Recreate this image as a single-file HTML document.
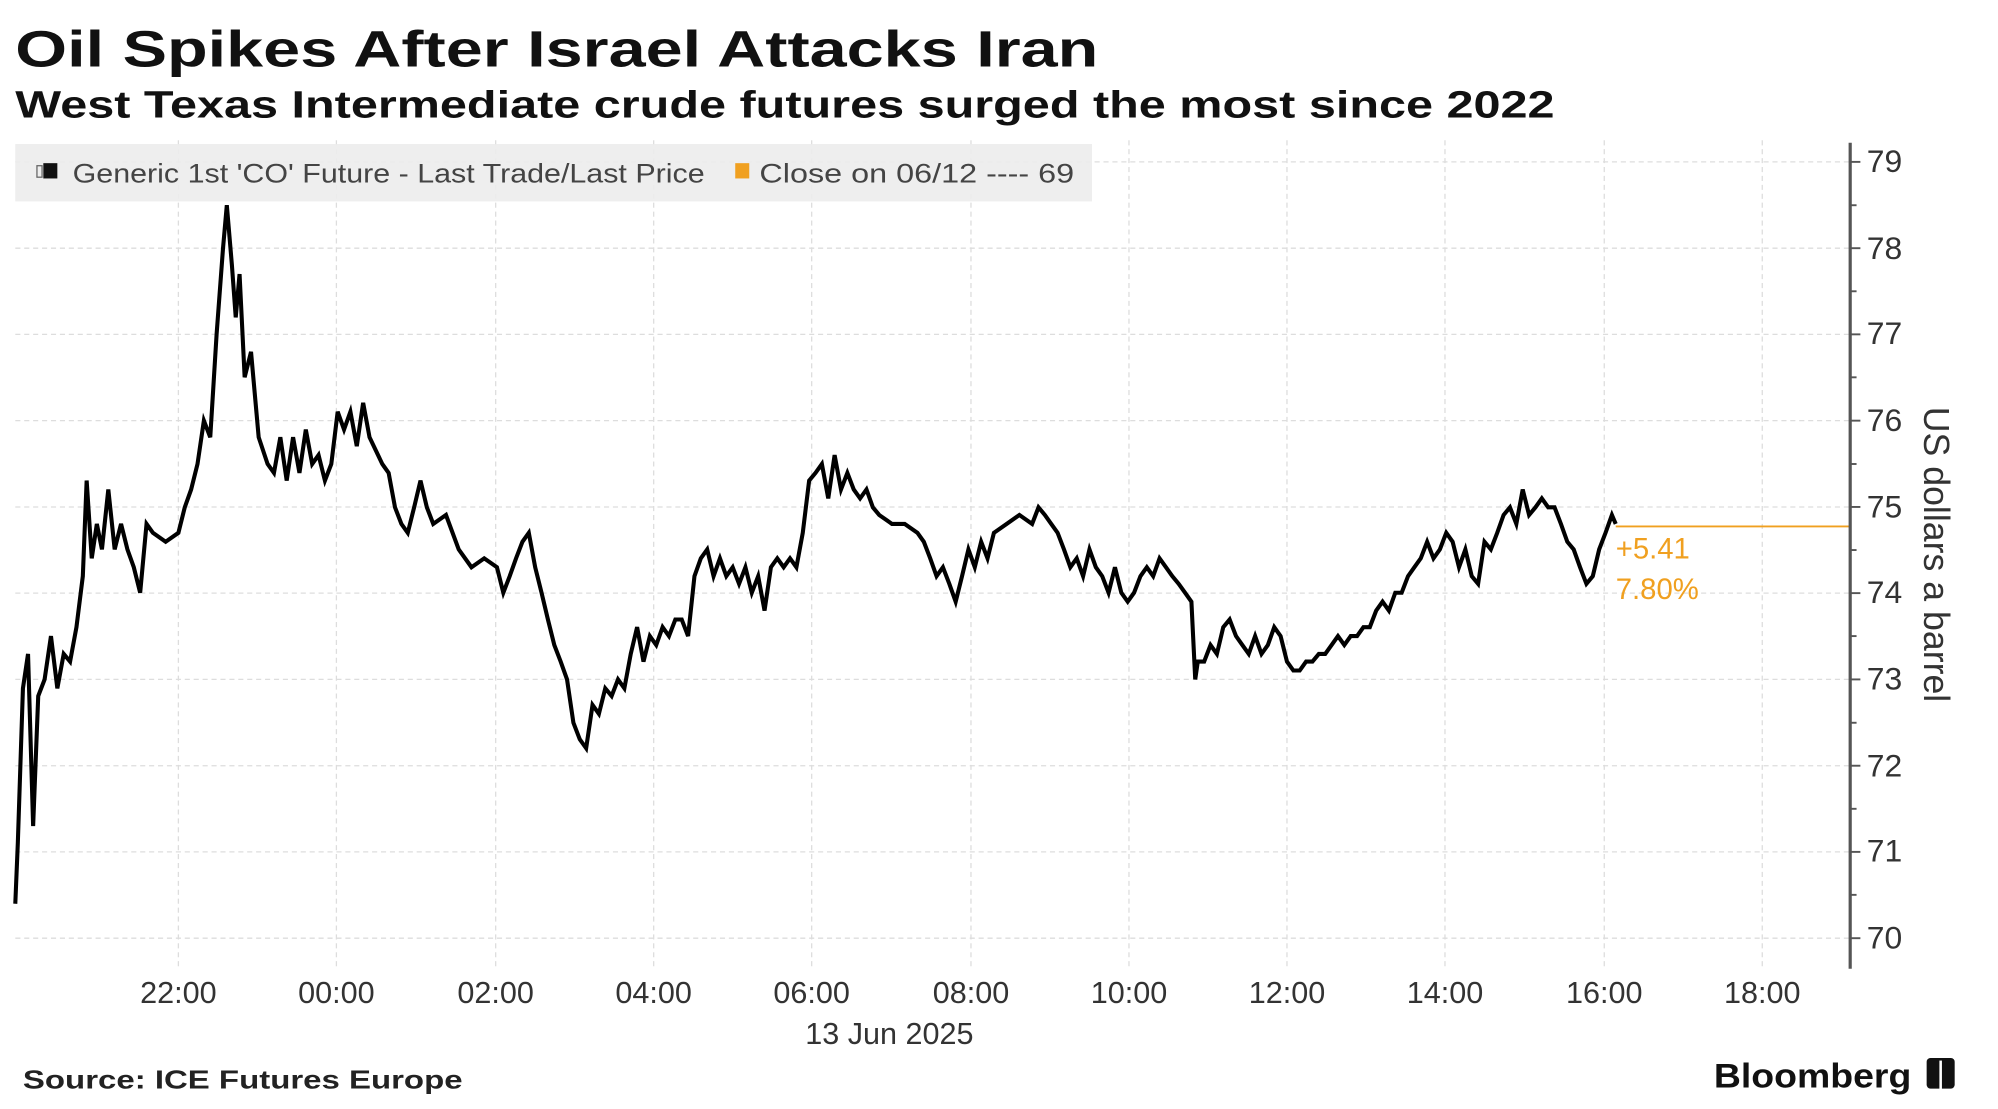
<!DOCTYPE html>
<html><head><meta charset="utf-8"><style>html,body{margin:0;padding:0;background:#fff}svg{display:block}</style></head>
<body>
<svg width="1998" height="1109" viewBox="0 0 1568 870" preserveAspectRatio="none" xmlns="http://www.w3.org/2000/svg" font-family="Liberation Sans, DejaVu Sans, sans-serif">
<rect width="1568" height="870" fill="#fff"/>
<text x="12" y="52" font-size="40" font-weight="bold" textLength="850" lengthAdjust="spacingAndGlyphs" fill="#111">Oil Spikes After Israel Attacks Iran</text>
<text x="12" y="92" font-size="30" font-weight="bold" textLength="1208" lengthAdjust="spacingAndGlyphs" fill="#111">West Texas Intermediate crude futures surged the most since 2022</text>
<g stroke="#ddd" stroke-width="1" stroke-dasharray="4,3">
<line x1="12" x2="1452" y1="127" y2="127"/><line x1="12" x2="1452" y1="194.7" y2="194.7"/><line x1="12" x2="1452" y1="262.3" y2="262.3"/><line x1="12" x2="1452" y1="330" y2="330"/><line x1="12" x2="1452" y1="397.7" y2="397.7"/><line x1="12" x2="1452" y1="465.3" y2="465.3"/><line x1="12" x2="1452" y1="533" y2="533"/><line x1="12" x2="1452" y1="600.7" y2="600.7"/><line x1="12" x2="1452" y1="668.3" y2="668.3"/><line x1="12" x2="1452" y1="736" y2="736"/>
<line x1="140" x2="140" y1="110" y2="760"/><line x1="264" x2="264" y1="110" y2="760"/><line x1="389" x2="389" y1="110" y2="760"/><line x1="513" x2="513" y1="110" y2="760"/><line x1="637" x2="637" y1="110" y2="760"/><line x1="762" x2="762" y1="110" y2="760"/><line x1="886" x2="886" y1="110" y2="760"/><line x1="1010" x2="1010" y1="110" y2="760"/><line x1="1134" x2="1134" y1="110" y2="760"/><line x1="1259" x2="1259" y1="110" y2="760"/><line x1="1383" x2="1383" y1="110" y2="760"/>
</g>
<rect x="12" y="113" width="845" height="45" fill="#ececec" opacity="0.9"/>
<rect x="29" y="130" width="4" height="9" fill="none" stroke="#666" stroke-width="1"/>
<rect x="34" y="128" width="11" height="12" fill="#111"/>
<text x="57" y="143" font-size="21" fill="#444" textLength="496" lengthAdjust="spacingAndGlyphs">Generic 1st 'CO' Future - Last Trade/Last Price</text>
<rect x="577" y="128" width="11" height="12" fill="#f0a020"/>
<text x="596" y="143" font-size="21" fill="#444" textLength="247" lengthAdjust="spacingAndGlyphs">Close on 06/12 ---- 69</text>
<line x1="1268" x2="1452" y1="413" y2="413" stroke="#f0a020" stroke-width="1.5"/>
<text x="1268" y="438" font-size="23" fill="#f0a020">+5.41</text>
<text x="1268" y="470" font-size="23" fill="#f0a020">7.80%</text>
<polyline fill="none" stroke="#000" stroke-width="3.2" stroke-linejoin="miter" points="12,709 14,661 18,540 22,513 26,648 30,546 35,533 40,499 45,540 50,513 55,519 60,492 65,452 68,377 72,438 76,411 80,431 85,384 90,431 95,411 100,431 105,445 110,465 115,411 120,418 130,425 140,418 145,398 150,384 155,364 160,330 165,343 170,262 175,195 178,161 182,208 185,249 188,215 192,296 197,276 203,343 210,364 215,371 220,343 225,377 230,343 235,371 240,337 245,364 250,357 255,377 260,364 265,323 270,337 275,323 280,350 285,316 290,343 300,364 305,371 310,398 315,411 320,418 325,398 330,377 335,398 340,411 350,404 360,431 370,445 380,438 390,445 395,465 400,452 405,438 410,425 415,418 420,445 425,465 430,486 435,506 440,519 445,533 450,567 455,580 460,587 465,553 470,560 475,540 480,546 485,533 490,540 495,513 500,492 505,519 510,499 515,506 520,492 525,499 530,486 535,486 540,499 545,452 550,438 555,431 560,452 565,438 570,452 575,445 580,458 585,445 590,465 595,452 600,479 605,445 610,438 615,445 620,438 625,445 630,418 635,377 640,371 645,364 650,391 655,357 660,384 665,371 670,384 675,391 680,384 685,398 690,404 700,411 710,411 720,418 725,425 730,438 735,452 740,445 745,458 750,472 755,452 760,431 765,445 770,425 775,438 780,418 790,411 800,404 810,411 815,398 820,404 825,411 830,418 835,431 840,445 845,438 850,452 855,431 860,445 865,452 870,465 875,445 880,465 885,472 890,465 895,452 900,445 905,452 910,438 915,445 920,452 925,458 930,465 935,472 938,533 940,519 945,519 950,506 955,513 960,492 965,486 970,499 975,506 980,513 985,499 990,513 995,506 1000,492 1005,499 1010,519 1015,526 1020,526 1025,519 1030,519 1035,513 1040,513 1045,506 1050,499 1055,506 1060,499 1065,499 1070,492 1075,492 1080,479 1085,472 1090,479 1095,465 1100,465 1105,452 1110,445 1115,438 1120,425 1125,438 1130,431 1135,418 1140,425 1145,445 1150,431 1155,452 1160,458 1165,425 1170,431 1175,418 1180,404 1185,398 1190,411 1195,384 1200,404 1205,398 1210,391 1215,398 1220,398 1225,411 1230,425 1235,431 1240,445 1245,458 1250,452 1255,431 1260,418 1265,404 1268,411"/>
<line x1="1452" x2="1452" y1="112" y2="760" stroke="#555" stroke-width="2.5"/>
<g stroke="#555" stroke-width="1.5">
<line x1="1452" x2="1460" y1="127" y2="127"/><line x1="1452" x2="1460" y1="194.7" y2="194.7"/><line x1="1452" x2="1460" y1="262.3" y2="262.3"/><line x1="1452" x2="1460" y1="330" y2="330"/><line x1="1452" x2="1460" y1="397.7" y2="397.7"/><line x1="1452" x2="1460" y1="465.3" y2="465.3"/><line x1="1452" x2="1460" y1="533" y2="533"/><line x1="1452" x2="1460" y1="600.7" y2="600.7"/><line x1="1452" x2="1460" y1="668.3" y2="668.3"/><line x1="1452" x2="1460" y1="736" y2="736"/>
<line x1="1452" x2="1457" y1="161" y2="161"/><line x1="1452" x2="1457" y1="228.5" y2="228.5"/><line x1="1452" x2="1457" y1="296" y2="296"/><line x1="1452" x2="1457" y1="364" y2="364"/><line x1="1452" x2="1457" y1="431.5" y2="431.5"/><line x1="1452" x2="1457" y1="499" y2="499"/><line x1="1452" x2="1457" y1="567" y2="567"/><line x1="1452" x2="1457" y1="634.5" y2="634.5"/><line x1="1452" x2="1457" y1="702" y2="702"/>
</g>
<g font-size="25" fill="#333">
<text x="1465" y="135">79</text><text x="1465" y="203">78</text><text x="1465" y="270">77</text><text x="1465" y="338">76</text><text x="1465" y="406">75</text><text x="1465" y="473">74</text><text x="1465" y="541">73</text><text x="1465" y="609">72</text><text x="1465" y="676">71</text><text x="1465" y="744">70</text>
</g>
<text transform="translate(1510,435) rotate(90)" text-anchor="middle" font-size="28" fill="#333">US dollars a barrel</text>
<g font-size="24" fill="#333" text-anchor="middle">
<text x="140" y="787">22:00</text><text x="264" y="787">00:00</text><text x="389" y="787">02:00</text><text x="513" y="787">04:00</text><text x="637" y="787">06:00</text><text x="762" y="787">08:00</text><text x="886" y="787">10:00</text><text x="1010" y="787">12:00</text><text x="1134" y="787">14:00</text><text x="1259" y="787">16:00</text><text x="1383" y="787">18:00</text>
<text x="698" y="819">13 Jun 2025</text>
</g>
<text x="18" y="854" font-size="20" font-weight="bold" fill="#222" textLength="345" lengthAdjust="spacingAndGlyphs">Source: ICE Futures Europe</text>
<text x="1345" y="853" font-size="27" font-weight="bold" fill="#111" textLength="155" lengthAdjust="spacingAndGlyphs">Bloomberg</text>
<rect x="1512" y="830" width="22" height="24" rx="3" fill="#111"/>
<line x1="1523" x2="1523" y1="832" y2="858" stroke="#fff" stroke-width="2"/>
</svg>
</body></html>
